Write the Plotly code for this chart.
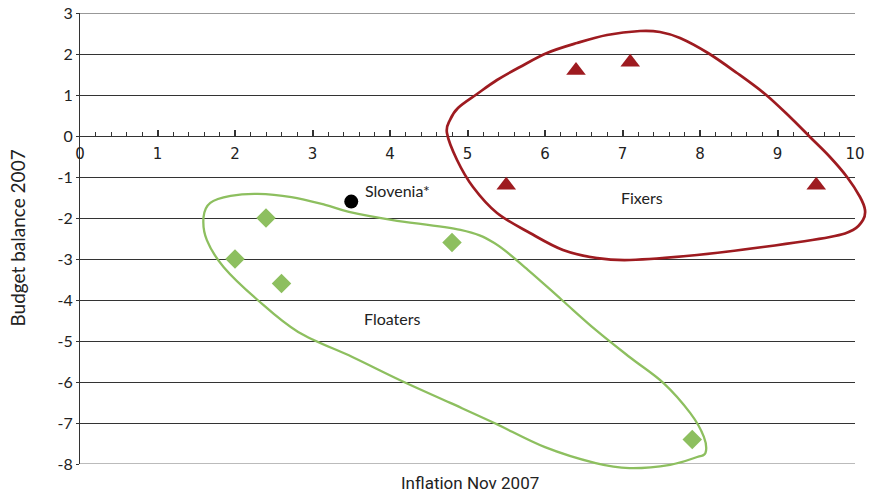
import plotly.graph_objects as go

# ---- data ----
fixers_x = [5.5, 6.4, 7.1, 9.5]
fixers_y = [-1.2, 1.6, 1.8, -1.2]
floaters_x = [2.4, 2.0, 2.6, 4.8, 7.9]
floaters_y = [-2.0, -3.0, -3.6, -2.6, -7.4]
slovenia_x = [3.5]
slovenia_y = [-1.6]
x_ticks = list(range(0, 11))
x_tick_labels = [str(v) for v in x_ticks]
y_ticks = list(range(-8, 4))
y_tick_labels = [str(v) for v in y_ticks]

X_RANGE = [0, 10]
Y_RANGE = [-8, 3]

# hand-drawn group outlines (data units)
red_outline_x = [4.735, 4.774, 4.877, 5.123, 5.381, 5.677, 6.026, 6.413, 6.800, 7.226, 7.484, 7.742, 8.103,
                 8.477, 8.839, 9.161, 9.419, 9.677, 9.897, 10.065, 10.129, 10.103, 9.974, 9.677, 8.813,
                 7.961, 7.097, 6.671, 6.232, 5.806, 5.381, 5.071, 4.865]
red_outline_y = [0.073, 0.390, 0.683, 1.024, 1.366, 1.683, 2.024, 2.268, 2.463, 2.561, 2.537, 2.390, 2.024,
                 1.537, 1.024, 0.463, -0.024, -0.512, -1.0, -1.488, -1.805, -2.049, -2.293, -2.463, -2.707,
                 -2.902, -3.024, -2.976, -2.780, -2.366, -1.878, -1.244, -0.585]
green_outline_x = [1.594, 1.681, 1.943, 2.292, 2.728, 3.164, 3.470, 4.036, 4.910, 5.346, 5.782, 6.218, 6.654,
                   7.090, 7.526, 7.875, 8.050, 8.071, 7.963, 7.614, 7.090, 6.654, 6.0, 5.346, 4.778, 4.124,
                   3.514, 2.815, 2.292, 1.855, 1.637]
green_outline_y = [-1.98, -1.63, -1.46, -1.41, -1.49, -1.68, -1.85, -2.05, -2.29, -2.61, -3.27, -4.0, -4.73,
                   -5.39, -6.02, -6.76, -7.34, -7.73, -7.83, -8.02, -8.10, -7.98, -7.59, -7.0, -6.51, -5.95,
                   -5.39, -4.78, -4.0, -3.20, -2.54]

RED = "#9e1b20"
GREEN = "#8dbf5f"
AXIS = "#333333"


def closed_path(xs, ys):
    px = [(x - X_RANGE[0]) / (X_RANGE[1] - X_RANGE[0]) for x in xs]
    py = [(y - Y_RANGE[0]) / (Y_RANGE[1] - Y_RANGE[0]) for y in ys]
    n = len(px)
    d = f"M {px[0]:.5f},{py[0]:.5f}"
    for i in range(n):
        i0, i1, i2, i3 = (i - 1) % n, i, (i + 1) % n, (i + 2) % n
        c1x = px[i1] + (px[i2] - px[i0]) / 6
        c1y = py[i1] + (py[i2] - py[i0]) / 6
        c2x = px[i2] - (px[i3] - px[i1]) / 6
        c2y = py[i2] - (py[i3] - py[i1]) / 6
        d += f" C {c1x:.5f},{c1y:.5f} {c2x:.5f},{c2y:.5f} {px[i2]:.5f},{py[i2]:.5f}"
    return d + " Z"


fig = go.Figure()
fig.add_trace(go.Scatter(x=fixers_x, y=fixers_y, mode="markers",
                         marker=dict(symbol="triangle-up", size=17, color=RED), cliponaxis=False))
fig.add_trace(go.Scatter(x=floaters_x, y=floaters_y, mode="markers",
                         marker=dict(symbol="diamond", size=15, color=GREEN), cliponaxis=False))
fig.add_trace(go.Scatter(x=slovenia_x, y=slovenia_y, mode="markers",
                         marker=dict(symbol="circle", size=14, color="black"), cliponaxis=False))

# gridlines at the range ends (plotly omits them at the plot edges)
for yv in (Y_RANGE[1], Y_RANGE[0]):
    fig.add_shape(type="line", xref="paper", yref="y", x0=0, x1=1, y0=yv, y1=yv,
                  line=dict(color=AXIS if yv > 0 else "#777777", width=1), layer="below")

fig.add_shape(type="path", xref="paper", yref="paper", path=closed_path(red_outline_x, red_outline_y),
              line=dict(color=RED, width=2.7), layer="above")
fig.add_shape(type="path", xref="paper", yref="paper", path=closed_path(green_outline_x, green_outline_y),
              line=dict(color=GREEN, width=2.3), layer="above")

label_font = dict(family="Lato", size=16, color="#222222")
fig.add_annotation(x=3.65, y=-1.32, text="Slovenia*", showarrow=False, xanchor="left", font=label_font)
fig.add_annotation(x=7.25, y=-1.51, text="Fixers", showarrow=False, font=label_font)
fig.add_annotation(x=4.03, y=-4.44, text="Floaters", showarrow=False, font=label_font)
fig.add_annotation(x=0.503, y=0, xref="paper", yref="paper", yshift=-19, yanchor="middle",
                   text="Inflation Nov 2007", showarrow=False,
                   font=dict(family="Roboto", size=17, color="#222222"))
fig.add_annotation(x=0, y=0.5, xref="paper", yref="paper", xshift=-63, xanchor="center", yanchor="middle",
                   textangle=-90, text="Budget balance 2007", showarrow=False,
                   font=dict(family="Lato", size=19, color="#222222"))

fig.update_layout(
    width=869, height=498,
    margin=dict(l=80, r=14, t=13, b=34),
    paper_bgcolor="white", plot_bgcolor="white",
    showlegend=False,
    xaxis=dict(range=X_RANGE, tickvals=x_ticks, ticktext=x_tick_labels, anchor="free", position=8 / 11,
               automargin=False, ticklabelstandoff=4,
               showgrid=False, zeroline=False, showline=True, linecolor=AXIS, linewidth=1,
               ticks="inside", ticklen=6, tickcolor=AXIS, tickwidth=1.5,
               minor=dict(dtick=0.2, ticks="inside", ticklen=4, tickcolor=AXIS, tickwidth=1),
               tickfont=dict(family="DejaVu Sans", size=15, color="#222222")),
    yaxis=dict(range=Y_RANGE, tickvals=y_ticks, ticktext=y_tick_labels, automargin=False,
               showgrid=True, gridcolor=AXIS, gridwidth=1,
               zeroline=False, showline=True, linecolor=AXIS, linewidth=1,
               ticks="outside", ticklen=3, tickcolor=AXIS,
               tickfont=dict(family="Lato", size=16, color="#222222")),
)

# remove the browser's default 8px body margin so the 869x498 figure fills the window exactly
fig.write_html("out.html", config={"displayModeBar": False},
               post_script="document.body.style.margin='0';")
